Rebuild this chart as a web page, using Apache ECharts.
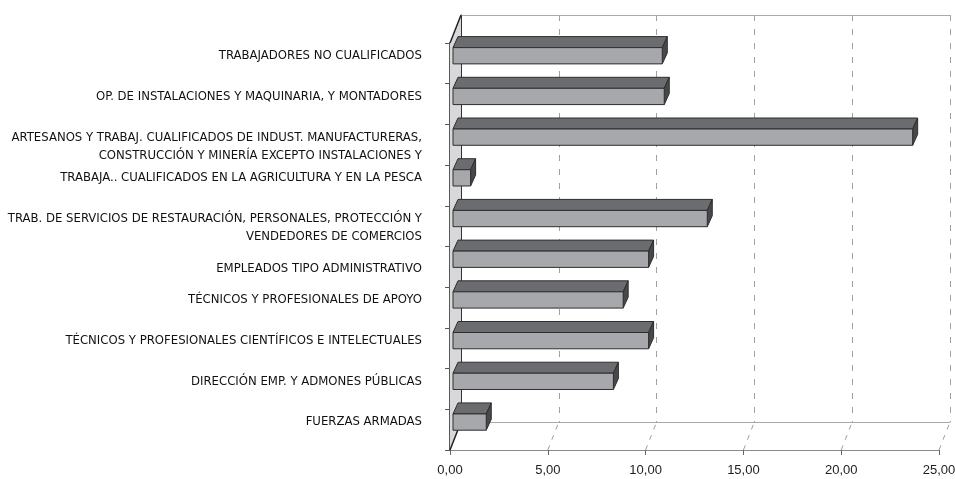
<!DOCTYPE html>
<html>
<head>
<meta charset="utf-8">
<script src="https://cdn.jsdelivr.net/npm/echarts@6/dist/echarts.min.js"></script>
<style>
html,body{margin:0;padding:0;background:#fff;}
#chart{width:955px;height:479px;}
</style>
</head>
<body>
<div id="chart"></div>
<script>
const categories = [
  'TRABAJADORES NO CUALIFICADOS',
  'OP. DE INSTALACIONES Y MAQUINARIA, Y MONTADORES',
  'ARTESANOS Y TRABAJ. CUALIFICADOS DE INDUST. MANUFACTURERAS,\nCONSTRUCCIÓN Y MINERÍA EXCEPTO INSTALACIONES Y',
  'TRABAJA.. CUALIFICADOS EN LA AGRICULTURA Y EN LA PESCA',
  'TRAB. DE SERVICIOS DE RESTAURACIÓN, PERSONALES, PROTECCIÓN Y\nVENDEDORES DE COMERCIOS',
  'EMPLEADOS TIPO ADMINISTRATIVO',
  'TÉCNICOS Y PROFESIONALES DE APOYO',
  'TÉCNICOS Y PROFESIONALES CIENTÍFICOS E INTELECTUALES',
  'DIRECCIÓN EMP. Y ADMONES PÚBLICAS',
  'FUERZAS ARMADAS'
];
const values = [10.7, 10.8, 23.5, 0.9, 13.0, 10.0, 8.7, 10.0, 8.2, 1.7];
const xMin = 0, xMax = 25, xInterval = 5;
const tickValues = [0, 5, 10, 15, 20, 25];

// 3D depth (style)
const DX = 11, DY = -28;
const BAR_DX = 5, BAR_DY = -11;
// labels that sit half a line lower in the original layout
const loweredLabels = [2, 4, 5];

const fmt = v => v.toFixed(2).replace('.', ',');
const narrow = "'DejaVu Sans Condensed','Liberation Sans Narrow',sans-serif";

const chart = echarts.init(document.getElementById('chart'), null, {renderer: 'canvas'});

const option = {
  animation: false,
  backgroundColor: '#ffffff',
  grid: [
    {left: 450, right: 16, top: 43, bottom: 29, outerBoundsMode: 'none', containLabel: false},
    {left: 450 + DX, right: 16 - DX, top: 43 + DY, bottom: 29 - DY, outerBoundsMode: 'none', containLabel: false},
    {left: 453, right: 13, top: 35.4, bottom: 36.6, outerBoundsMode: 'none', containLabel: false}
  ],
  xAxis: [
    {gridIndex: 0, type: 'value', min: xMin, max: xMax, interval: xInterval,
     axisLine: {show: true, lineStyle: {color: '#8a8a8a', width: 1}},
     axisTick: {show: true, length: 5, lineStyle: {color: '#666'}},
     axisLabel: {formatter: fmt, color: '#222', fontSize: 13, margin: 14, fontFamily: 'Liberation Sans, Arial, sans-serif'},
     splitLine: {show: false}},
    {gridIndex: 1, type: 'value', min: xMin, max: xMax, interval: xInterval,
     axisLine: {show: true, lineStyle: {color: '#aaaaaa', width: 1}},
     axisTick: {show: false}, axisLabel: {show: false},
     splitLine: {show: true, lineStyle: {color: '#a0a0a0', type: [6, 8], width: 1}}},
    {gridIndex: 1, type: 'value', position: 'top', min: xMin, max: xMax, interval: xInterval,
     axisLine: {show: true, lineStyle: {color: '#aaaaaa', width: 1}},
     axisTick: {show: false}, axisLabel: {show: false}, splitLine: {show: false}},
    {gridIndex: 2, type: 'value', min: xMin, max: xMax, interval: xInterval, show: false}
  ],
  yAxis: [
    {gridIndex: 0, type: 'category', data: categories, inverse: true,
     axisLine: {show: true, lineStyle: {color: '#222', width: 1.5}},
     axisTick: {show: true, length: 5, lineStyle: {color: '#555'}},
     axisLabel: {show: false}},
    {gridIndex: 1, type: 'category', data: categories, inverse: true,
     axisLine: {show: true, lineStyle: {color: '#333', width: 1}},
     axisTick: {show: false}, axisLabel: {show: false}},
    {gridIndex: 2, type: 'category', data: categories, inverse: true,
     axisLine: {show: false}, axisTick: {show: false},
     axisLabel: {color: '#111', fontSize: 13, fontFamily: narrow, margin: 31, lineHeight: 18,
       formatter: function (value, index) {
         return loweredLabels.indexOf(index) >= 0 ? '\n' + value : value;
       }}}
  ],
  series: [
    {
      type: 'custom', xAxisIndex: 0, yAxisIndex: 0, z: 1, silent: true,
      data: [[0, 0]],
      renderItem: function (params, api) {
        const cs = params.coordSys;
        const x = cs.x, y = cs.y, h = cs.height;
        const children = [];
        children.push({type: 'polygon', shape: {points: [[x, y], [x + DX, y + DY], [x + DX, y + h + DY], [x, y + h]]},
          style: {fill: '#d8d8da', stroke: null}});
        children.push({type: 'line', shape: {x1: x, y1: y, x2: x + DX, y2: y + DY}, style: {stroke: '#222', lineWidth: 1.5}});
        children.push({type: 'line', shape: {x1: x, y1: y + h, x2: x + DX, y2: y + h + DY}, style: {stroke: '#222', lineWidth: 1.5}});
        tickValues.forEach(function (v) {
          if (v === xMin) return;
          const px = api.coord([v, 0])[0];
          children.push({type: 'line', shape: {x1: px, y1: y + h, x2: px + DX, y2: y + h + DY},
            style: {stroke: '#a0a0a0', lineWidth: 1, lineDash: [5, 6]}});
        });
        return {type: 'group', children: children};
      }
    },
    {
      type: 'custom', xAxisIndex: 3, yAxisIndex: 2, z: 3,
      data: values.map((v, i) => [v, i]),
      encode: {x: 0, y: 1},
      renderItem: function (params, api) {
        const v = api.value(0), idx = api.value(1);
        const p0 = api.coord([0, idx]);
        const p1 = api.coord([v, idx]);
        const bh = api.size([0, 1])[1] * 0.4;
        const top = p0[1] - bh / 2;
        const x0 = p0[0], x1 = p1[0];
        const stroke = '#2e2e30';
        return {type: 'group', children: [
          {type: 'polygon', shape: {points: [[x0, top], [x1, top], [x1 + BAR_DX, top + BAR_DY], [x0 + BAR_DX, top + BAR_DY]]},
            style: {fill: '#6b6c6f', stroke: stroke, lineWidth: 1}},
          {type: 'polygon', shape: {points: [[x1, top], [x1 + BAR_DX, top + BAR_DY], [x1 + BAR_DX, top + BAR_DY + bh], [x1, top + bh]]},
            style: {fill: '#48484a', stroke: stroke, lineWidth: 1}},
          {type: 'rect', shape: {x: x0, y: top, width: x1 - x0, height: bh},
            style: {fill: '#a7a8ab', stroke: stroke, lineWidth: 1}}
        ]};
      }
    }
  ]
};
chart.setOption(option);
</script>
</body>
</html>
